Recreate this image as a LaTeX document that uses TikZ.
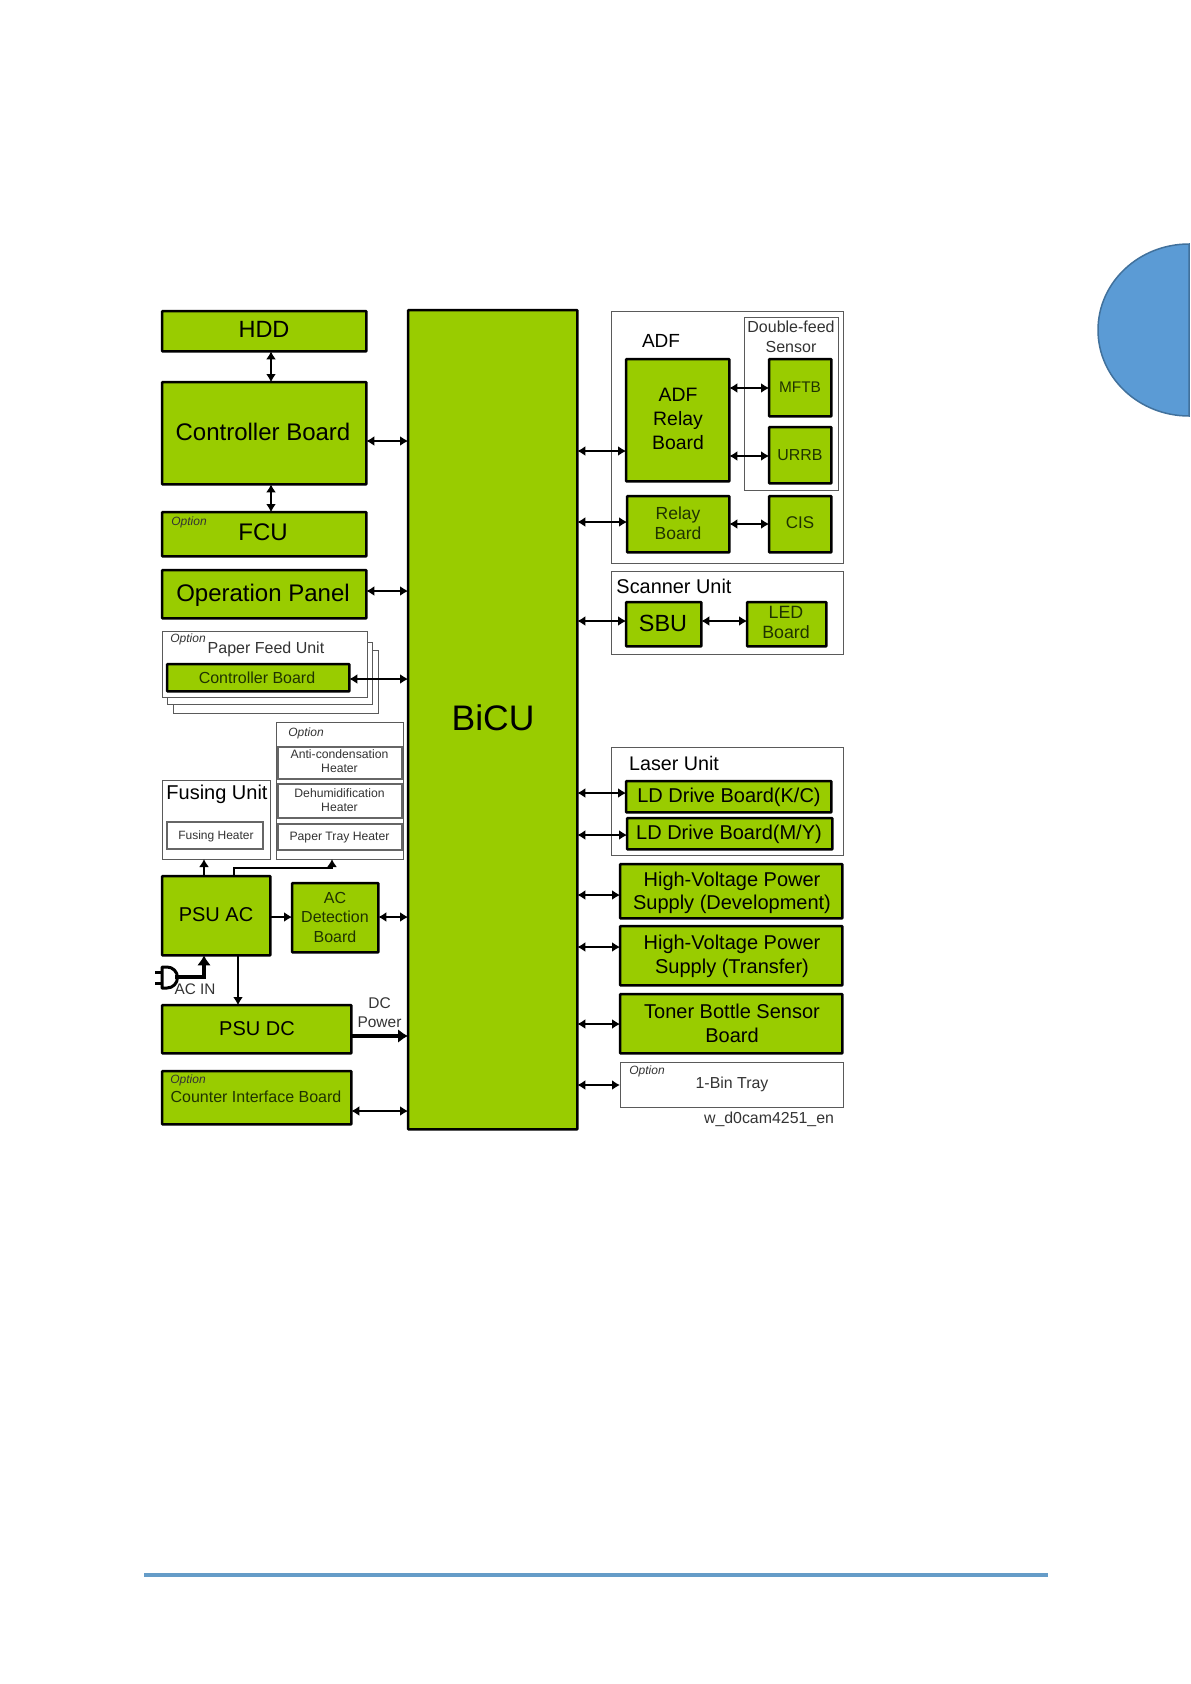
\documentclass[tikz,border=0pt]{standalone}
\usepackage{fontspec}
\setmainfont{Liberation Sans}
\usetikzlibrary{arrows.meta}
\definecolor{boardgreen}{HTML}{99CC00}
\definecolor{unitgrey}{HTML}{5A5A5A}
\definecolor{heatgrey}{HTML}{666666}
\definecolor{tabblue}{HTML}{5B9BD5}
\definecolor{tabedge}{HTML}{41719C}
\definecolor{rulecol}{HTML}{659CC8}
\definecolor{softgreen}{HTML}{1F3300}
\definecolor{softgrey}{HTML}{333333}
\tikzset{
  board/.style={draw=black,line width=2.4pt,fill=boardgreen,rounded corners=0.6pt},
  unitbox/.style={draw=unitgrey,line width=1pt,fill=white},
  heaterbox/.style={draw=heatgrey,line width=1.2pt,fill=white},
  txt/.style={inner sep=0pt,outer sep=0pt,align=center},
  biarrow/.style={line width=1.9pt,{Latex[length=8pt,width=10pt]}-{Latex[length=8pt,width=10pt]}},
  oneway/.style={line width=1.9pt,-{Latex[length=8pt,width=10pt]}},
  heavy/.style={line width=3.4pt,-{Latex[length=10pt,width=14pt]}},
}
\newcounter{txtno}
\newcommand{\bx}[6]{\node[#1,inner sep=0pt,outer sep=0pt,minimum width={(#5-#3)*1pt},minimum height={(#6-#4)*1pt}] (#2) at ({(#3+#5)/2},{(#4+#6)/2}) {};}
\newcommand{\bd}[5]{\node[board,inner sep=0pt,outer sep=0pt,minimum width={(#4-#2-0.7)*1pt},minimum height={(#5-#3-0.7)*1pt}] (#1) at ({(#2+#4)/2-0.3},{(#3+#5)/2-0.3}) {};}
\newcommand{\lb}[6][black]{\stepcounter{txtno}\node[txt,text=#1,font=\fontsize{#4}{#5}\selectfont] (txt\arabic{txtno}) at (#2,#3) {#6};}
\newcommand{\opt}[2]{\stepcounter{txtno}\node[txt,text=softgrey,font=\fontsize{12}{14}\selectfont\itshape] (txt\arabic{txtno}) at (#1,#2) {Option};}
\newcommand{\hc}[4][biarrow]{\draw[#1] (#2.east |- 0,#4) -- (#3.west |- 0,#4);}
\begin{document}
\begin{tikzpicture}[x=1pt,y=-1pt]
\useasboundingbox (0,0) rectangle (1191,1684);
% page furniture
\draw[tabedge,line width=1.5pt,fill=tabblue] (1189,416) arc[start angle=90,end angle=270,x radius=91,y radius=86] -- cycle;
\draw[rulecol,line width=4pt] (144,1575) -- (1048,1575);
% BiCU
\bd{bicu}{408}{310}{578}{1130}
\lb{493}{718}{35.5}{40}{BiCU}
% left column
\bd{hdd}{162}{311}{367}{352}
\lb{264}{329}{23.5}{28}{HDD}
\bd{ctrl}{162}{382}{367}{485}
\lb{263}{432}{24}{28}{Controller Board}
\bd{fcu}{162}{512}{367}{557}
\opt{189}{522}
\lb{263}{532}{24}{28}{FCU}
\bd{oppanel}{162}{570}{367}{619}
\lb{263}{595}{24}{28}{Operation Panel}
\bx{unitbox}{sheetc}{173}{650}{378}{713}
\bx{unitbox}{sheetb}{167}{642}{372}{704}
\bx{unitbox}{sheeta}{162}{631}{367}{697}
\opt{188}{639}
\lb[softgrey]{266}{649}{16}{19}{Paper Feed Unit}
\bd{pfctrl}{167}{664}{350}{692}
\lb[softgreen]{257}{678}{16}{19}{Controller Board}
% heaters
\bx{unitbox}{optheat}{276}{722}{403}{859}
\opt{306}{733}
\bx{heaterbox}{anti}{278}{747}{402}{779}
\lb[softgrey]{339.5}{761}{12.2}{14.5}{Anti-condensation\\Heater}
\bx{heaterbox}{dehum}{278}{784}{402}{818}
\lb[softgrey]{339.5}{800}{12.2}{14.5}{Dehumidification\\Heater}
\bx{heaterbox}{tray}{278}{824}{402}{850}
\lb[softgrey]{339.5}{838}{12.2}{14.5}{Paper Tray Heater}
\bx{unitbox}{fusing}{162}{780}{270}{859}
\lb{217}{794}{20}{24}{Fusing Unit}
\bx{heaterbox}{fheater}{167}{822}{263}{849}
\lb[softgrey]{216}{836}{12}{14.5}{Fusing Heater}
\bd{psuac}{162}{876}{271}{956}
\lb{216}{915}{20}{24}{PSU AC}
\bd{acdet}{292}{883}{379}{953}
\lb[softgreen]{335}{917}{16}{19.5}{AC\\Detection\\Board}
\bd{psudc}{162}{1005}{352}{1054}
\lb{257}{1029}{20}{24}{PSU DC}
\bd{counter}{162}{1071}{352}{1125}
\opt{188}{1080}
\lb[softgreen]{256}{1097}{16}{19}{Counter Interface Board}
\lb[softgrey]{195}{989}{15.3}{18}{AC IN}
\lb[softgrey]{379.5}{1012.5}{15.5}{19}{DC\\Power}
% plug
\coordinate (plugtip) at (175,977);
\draw[line width=3pt,line join=round] (162,967) -- (167,967) arc[start angle=-90,end angle=90,radius=10.5] -- (162,988) -- cycle;
\draw[line width=3pt] (155,972) -- (162,972) (155,983) -- (162,983);
\draw[heavy] (plugtip) -| (psuac.south -| 204,0);
% left connectors
\draw[biarrow] (hdd.south -| 271,0) -- (ctrl.north -| 271,0);
\draw[biarrow] (ctrl.south -| 271,0) -- (fcu.north -| 271,0);
\hc{ctrl}{bicu}{441}
\hc{oppanel}{bicu}{591}
\hc{pfctrl}{bicu}{679}
\hc{acdet}{bicu}{917}
\hc{counter}{bicu}{1111}
\hc[heavy]{psudc}{bicu}{1036}
\hc[oneway]{psuac}{acdet}{917}
\draw[oneway] (psuac.north -| 204,0) -- (fusing.south -| 204,0);
\draw[oneway] (psuac.north -| 234,0) |- (332,868) -- (optheat.south -| 332,0);
\draw[oneway] (psuac.south -| 238,0) -- (psudc.north -| 238,0);
% ADF
\bx{unitbox}{adf}{611}{311}{843}{563}
\lb{661}{341}{19}{23}{ADF}
\bx{unitbox}{dfeed}{744}{317}{838}{490}
\lb[softgrey]{791}{337}{16}{19.5}{Double-feed\\Sensor}
\bd{adfrelay}{626}{359}{730}{482}
\lb{678}{419}{19.4}{24}{ADF\\Relay\\Board}
\bd{mftb}{769}{359}{832}{417}
\lb[softgreen]{800}{387}{15.4}{18}{MFTB}
\bd{urrb}{769}{427}{832}{484}
\lb[softgreen]{800}{455}{15.9}{18}{URRB}
\bd{relay}{627}{496}{730}{553}
\lb[softgreen]{678}{523}{17.5}{20.5}{Relay\\Board}
\bd{cis}{769}{496}{832}{553}
\lb[softgreen]{800}{523}{17}{20}{CIS}
% Scanner
\bx{unitbox}{scanner}{611}{571}{843}{654}
\lb{674}{586}{19.9}{24}{Scanner Unit}
\bd{sbu}{626}{602}{702}{647}
\lb{663}{623}{23.4}{28}{SBU}
\bd{led}{747}{602}{827}{647}
\lb[softgreen]{786}{622}{17.8}{20}{LED\\Board}
% Laser
\bx{unitbox}{laser}{611}{747}{843}{855}
\lb{674}{763}{19.7}{24}{Laser Unit}
\bd{ldkc}{626}{781}{832}{813}
\lb{729}{797}{20}{24}{LD Drive Board(K/C)}
\bd{ldmy}{627}{818}{833}{850}
\lb{729}{834}{20}{24}{LD Drive Board(M/Y)}
% lower right
\bd{hvdev}{620}{864}{843}{919}
\lb{732}{893}{20}{23.5}{High-Voltage Power\\Supply (Development)}
\bd{hvtrans}{620}{926}{843}{986}
\lb{732}{956}{20}{24}{High-Voltage Power\\Supply (Transfer)}
\bd{toner}{620}{994}{843}{1054}
\lb{732}{1023}{20}{24}{Toner Bottle Sensor\\Board}
\bx{unitbox}{onebin}{620}{1062}{843}{1107}
\opt{647}{1071}
\lb[softgrey]{732}{1084}{15.9}{19}{1-Bin Tray}
\lb[softgrey]{769}{1119}{15.9}{19}{w\_d0cam4251\_en}
% right connectors
\hc{bicu}{adfrelay}{451}
\hc{bicu}{relay}{522}
\hc{bicu}{sbu}{621}
\hc{bicu}{ldkc}{793}
\hc{bicu}{ldmy}{835}
\hc{bicu}{hvdev}{895}
\hc{bicu}{hvtrans}{947}
\hc{bicu}{toner}{1024}
\hc{bicu}{onebin}{1085}
\hc{adfrelay}{mftb}{388}
\hc{adfrelay}{urrb}{456}
\hc{relay}{cis}{524}
\hc{sbu}{led}{621}
\end{tikzpicture}
\end{document}
